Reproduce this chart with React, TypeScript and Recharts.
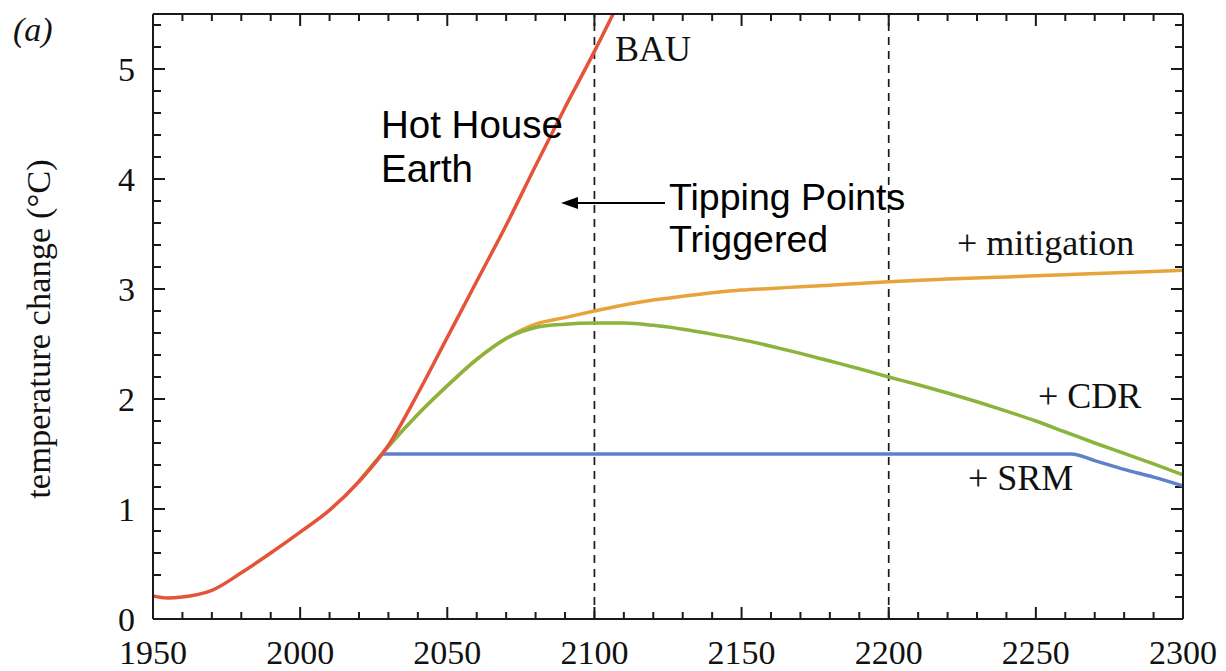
import { LineChart, Line, XAxis, YAxis, ReferenceLine } from 'recharts';

// BAU (red)
const bauYears = [1950, 1955, 1960, 1970, 1980, 1990, 2000, 2010, 2020, 2030, 2040, 2050, 2060, 2070, 2080, 2090, 2100, 2110];
const bauTemp = [0.21, 0.19, 0.2, 0.26, 0.42, 0.6, 0.79, 0.99, 1.25, 1.58, 2.05, 2.56, 3.07, 3.58, 4.12, 4.65, 5.16, 5.7];

// + mitigation (orange)
const mitYears = [2020, 2030, 2040, 2050, 2060, 2070, 2080, 2090, 2100, 2110, 2120, 2130, 2140, 2150, 2160, 2170, 2180, 2190, 2200, 2220, 2240, 2260, 2280, 2300];
const mitTemp = [1.25, 1.57, 1.86, 2.12, 2.36, 2.55, 2.68, 2.74, 2.8, 2.855, 2.9, 2.935, 2.965, 2.99, 3.005, 3.02, 3.035, 3.05, 3.065, 3.09, 3.11, 3.13, 3.15, 3.17];

// + CDR (green)
const cdrYears = [2020, 2030, 2040, 2050, 2060, 2070, 2080, 2090, 2100, 2110, 2120, 2130, 2140, 2150, 2160, 2170, 2180, 2190, 2200, 2210, 2220, 2230, 2240, 2250, 2260, 2270, 2280, 2290, 2300];
const cdrTemp = [1.25, 1.57, 1.86, 2.12, 2.36, 2.55, 2.65, 2.68, 2.69, 2.69, 2.67, 2.635, 2.59, 2.54, 2.48, 2.415, 2.345, 2.275, 2.2, 2.13, 2.055, 1.975, 1.89, 1.8, 1.7, 1.6, 1.505, 1.41, 1.31];

// + SRM (blue)
const srmYears = [2028, 2100, 2200, 2262, 2270, 2280, 2290, 2300];
const srmTemp = [1.5, 1.5, 1.5, 1.5, 1.44, 1.36, 1.29, 1.21];

const X_MIN = 1950;
const X_MAX = 2300;
const Y_MIN = 0;
const Y_MAX = 5.5;

const xTicks = Array.from({ length: 36 }, (_, i) => X_MIN + i * 10);
const yTicks = Array.from({ length: 28 }, (_, i) => Math.round(i * 2) / 10);
const xLabels = xTicks.filter((v) => v % 50 === 0);
const yLabels = [0, 1, 2, 3, 4, 5];
const tippingYears = [2100, 2200];

const toSeries = (years: number[], temps: number[]) => years.map((year, i) => ({ year, temp: temps[i] }));

const bau = toSeries(bauYears, bauTemp);
const mitigation = toSeries(mitYears, mitTemp);
const cdr = toSeries(cdrYears, cdrTemp);
const srm = toSeries(srmYears, srmTemp);

const AXIS = '#1a1a1a';
const SERIF = '"Liberation Serif", "Times New Roman", serif';
const SANS = '"Liberation Sans", Arial, sans-serif';

// plot is 1030 x 605 px; inward tick lengths converted to data units
const YEARS_PER_PX = (X_MAX - X_MIN) / 1030;
const TEMP_PER_PX = (Y_MAX - Y_MIN) / 605;
const isMajorX = (v: number) => v % 50 === 0;
const isMajorY = (v: number) => Math.abs(v - Math.round(v)) < 1e-6;

function BottomLabel(props: any) {
    const { x, y, payload } = props;
    return (
        <text x={x} y={Number(y) + 45} textAnchor="middle" fontFamily={SERIF} fontSize={34} fill="#111">
            {payload.value}
        </text>
    );
}

function LeftLabel(props: any) {
    const { x, y, payload } = props;
    return (
        <text x={Number(x) - 18} y={Number(y) + 12} textAnchor="end" fontFamily={SERIF} fontSize={34} fill="#111">
            {payload.value}
        </text>
    );
}

export default function App() {
    const tickStroke = { stroke: AXIS, strokeWidth: 2, ifOverflow: 'visible' as const };
    const axisLine = { stroke: AXIS, strokeWidth: 2 };
    return (
        <div style={{ position: 'absolute', left: 0, top: 0, width: 1226, height: 671, background: '#fff' }}>
            <LineChart width={1226} height={671} margin={{ top: 0, right: 0, bottom: 0, left: 0 }}>
                <XAxis
                    dataKey="year"
                    type="number"
                    domain={[X_MIN, X_MAX]}
                    ticks={xLabels}
                    interval={0}
                    height={52}
                    tickSize={0}
                    tickMargin={0}
                    tickLine={false}
                    axisLine={axisLine}
                    tick={(p: any) => <BottomLabel {...p} />}
                />
                <XAxis
                    xAxisId="top"
                    orientation="top"
                    type="number"
                    domain={[X_MIN, X_MAX]}
                    height={14}
                    tick={false}
                    tickLine={false}
                    axisLine={axisLine}
                />
                <YAxis
                    type="number"
                    domain={[Y_MIN, Y_MAX]}
                    allowDataOverflow
                    ticks={yLabels}
                    interval={0}
                    width={153}
                    tickSize={0}
                    tickMargin={0}
                    tickLine={false}
                    axisLine={axisLine}
                    tick={(p: any) => <LeftLabel {...p} />}
                />
                <YAxis
                    yAxisId="right"
                    orientation="right"
                    type="number"
                    domain={[Y_MIN, Y_MAX]}
                    width={43}
                    tick={false}
                    tickLine={false}
                    axisLine={axisLine}
                />
                {xTicks.map((v) => {
                    const len = (isMajorX(v) ? 12 : 7) * TEMP_PER_PX;
                    return [
                        <ReferenceLine key={`b${v}`} segment={[{ x: v, y: Y_MIN }, { x: v, y: Y_MIN + len }]} {...tickStroke} />,
                        <ReferenceLine key={`t${v}`} segment={[{ x: v, y: Y_MAX }, { x: v, y: Y_MAX - len }]} {...tickStroke} />,
                    ];
                })}
                {yTicks.map((v) => {
                    const len = (isMajorY(v) ? 12 : 8) * YEARS_PER_PX;
                    return [
                        <ReferenceLine key={`l${v}`} segment={[{ x: X_MIN, y: v }, { x: X_MIN + len, y: v }]} {...tickStroke} />,
                        <ReferenceLine key={`r${v}`} segment={[{ x: X_MAX, y: v }, { x: X_MAX - len, y: v }]} {...tickStroke} />,
                    ];
                })}
                {tippingYears.map((yr) => (
                    <ReferenceLine key={yr} x={yr} stroke={AXIS} strokeWidth={1.7} strokeDasharray="8 6" />
                ))}
                <Line data={srm} dataKey="temp" type="monotone" stroke="#5E82C8" strokeWidth={3.5} dot={false} isAnimationActive={false} />
                <Line data={mitigation} dataKey="temp" type="monotone" stroke="#E8A43C" strokeWidth={3.5} dot={false} isAnimationActive={false} />
                <Line data={cdr} dataKey="temp" type="monotone" stroke="#8BB43C" strokeWidth={3.5} dot={false} isAnimationActive={false} />
                <Line data={bau} dataKey="temp" type="monotone" stroke="#E4533A" strokeWidth={3.5} dot={false} isAnimationActive={false} />
            </LineChart>
            <svg width={1226} height={671} style={{ position: 'absolute', left: 0, top: 0, pointerEvents: 'none' }}>
                <text x={13} y={41} fontFamily={SERIF} fontStyle="italic" fontSize={34} fill="#111">(a)</text>
                <text
                    transform="translate(50, 329) rotate(-90)"
                    textAnchor="middle"
                    fontFamily={SERIF}
                    fontSize={34.5}
                    fill="#111"
                >
                    temperature change (°C)
                </text>
                <text x={615} y={61} fontFamily={SERIF} fontSize={36} fill="#111">BAU</text>
                <text x={381} y={138} fontFamily={SANS} fontSize={38.5} fill="#000">Hot House</text>
                <text x={381} y={182} fontFamily={SANS} fontSize={38.5} fill="#000">Earth</text>
                <text x={669} y={210} fontFamily={SANS} fontSize={37.5} fill="#000">Tipping Points</text>
                <text x={669} y={252} fontFamily={SANS} fontSize={37.5} fill="#000">Triggered</text>
                <line x1={665} y1={203} x2={572} y2={203} stroke="#000" strokeWidth={2} />
                <polygon points="561,203 578,197 578,209" fill="#000" />
                <text x={957} y={255} fontFamily={SERIF} fontSize={36} fill="#111">+ mitigation</text>
                <text x={1038} y={408} fontFamily={SERIF} fontSize={36} fill="#111">+ CDR</text>
                <text x={968} y={490} fontFamily={SERIF} fontSize={36} fill="#111">+ SRM</text>
            </svg>
        </div>
    );
}
